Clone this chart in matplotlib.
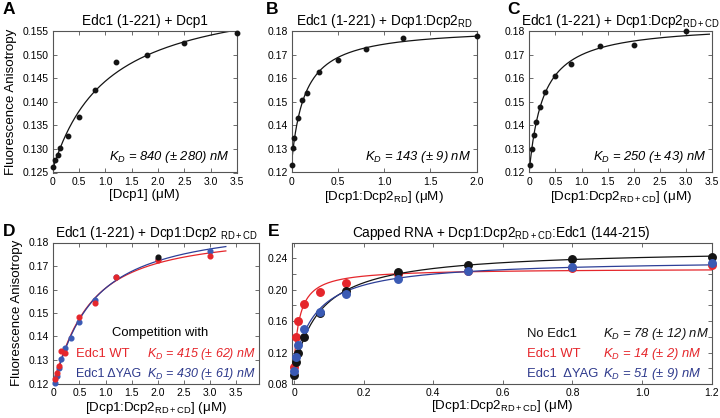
import numpy as np
import matplotlib
matplotlib.use("Agg")
import matplotlib.pyplot as plt
from matplotlib.ticker import MultipleLocator, FixedLocator, FuncFormatter

plt.rcParams['font.family'] = ['Liberation Sans', 'DejaVu Sans']
plt.rcParams['mathtext.fontset'] = 'custom'
plt.rcParams['mathtext.rm'] = 'Liberation Sans'
plt.rcParams['mathtext.it'] = 'Liberation Sans:italic'
plt.rcParams['mathtext.bf'] = 'Liberation Sans:bold'

# ---------------- data ----------------
A_x = [0, 0.05, 0.1, 0.15, 0.3, 0.5, 0.8, 1.2, 1.8, 2.5, 3.5]
A_y = [0.1262, 0.1277, 0.1287, 0.1301, 0.1327, 0.1368, 0.1425, 0.1485, 0.1500, 0.1524, 0.1545]

B_x = [0, 0.0125, 0.03, 0.07, 0.11, 0.17, 0.3, 0.5, 0.8, 1.2, 2.0]
B_y = [0.1231, 0.1304, 0.1348, 0.1433, 0.1508, 0.1536, 0.1628, 0.1678, 0.1723, 0.1770, 0.1779]

C_x = [0.0125, 0.05, 0.09, 0.125, 0.2, 0.31, 0.5, 0.8, 1.35, 2.0, 3.0]
C_y = [0.1231, 0.1301, 0.1361, 0.1413, 0.1479, 0.1541, 0.1608, 0.1661, 0.1735, 0.1739, 0.1800]

D_red_x = [0.025, 0.075, 0.1, 0.15, 0.23, 0.5, 0.8, 1.2, 2.0, 3.0]
D_red_y = [0.1221, 0.1243, 0.1275, 0.1340, 0.1330, 0.1482, 0.1543, 0.1653, 0.1725, 0.1744]
D_blue_x = [0.025, 0.07, 0.1, 0.15, 0.23, 0.33, 0.5, 0.8, 1.2, 2.0, 3.0]
D_blue_y = [0.1201, 0.1232, 0.1267, 0.1305, 0.1351, 0.1393, 0.1460, 0.1557, 0.1655, 0.1730, 0.1762]
D_black_x = [2.0]
D_black_y = [0.1739]

E_x = [0, 0.006, 0.0125, 0.03, 0.075, 0.15, 0.3, 0.5, 0.8, 1.2]
E_black = [0.0916, 0.1084, 0.1200, 0.1395, 0.1700, 0.1988, 0.2222, 0.2315, 0.2391, 0.2413]
E_blue = [0.0960, 0.1148, 0.1297, 0.1497, 0.1721, 0.1942, 0.2133, 0.2242, 0.2293, 0.2336]
E_red = [0.1020, 0.1400, 0.1606, 0.1819, 0.1967, 0.2082, 0.2196, 0.2235, 0.2277, 0.2310]

RED = '#e5262b'
BLUE_PT = '#3a5ab4'
BLUE_LN = '#2d3f98'
BLUE_TX = '#2e3a8c'
BLACK = '#141414'
AXC = '#555555'

W, H = 720, 418
fig = plt.figure(figsize=(W / 100, H / 100), dpi=100)


def box(l, t, r, b):
    return [l / W, 1 - b / H, (r - l) / W, (b - t) / H]


def fit(x, y, ns=(1.0,)):
    x = np.asarray(x, float)
    y = np.asarray(y, float)
    best = None
    for K in np.geomspace(0.001, 5, 1500):
        for n in ns:
            f = x ** n / (K ** n + x ** n)
            M = np.column_stack([np.ones_like(f), f])
            coef = np.linalg.lstsq(M, y, rcond=None)[0]
            r = np.sum((M @ coef - y) ** 2)
            if best is None or r < best[0]:
                best = (r, K, n, coef)
    _, K, n, coef = best
    return lambda xs: coef[0] + coef[1] * xs ** n / (K ** n + xs ** n)


def style(ax):
    for s in ax.spines.values():
        s.set_color(AXC)
        s.set_linewidth(0.8)
    ax.tick_params(which='both', direction='in', top=True, right=True,
                   length=3, width=0.6, color=AXC, labelsize=7.5, pad=3)


def xfmt(v, p):
    return '0' if abs(v) < 1e-9 else f'{v:.1f}'


TFS = 9.8
LFS = 9.6
KFS = 9.4

# ---------- Panel A ----------
ax = fig.add_axes(box(52.5, 31, 237, 172.5))
style(ax)
f = fit(A_x, A_y)
xs = np.linspace(0, 3.5, 300)
ax.plot(xs, f(xs), color=BLACK, lw=0.9)
ax.plot(A_x, A_y, 'o', color=BLACK, ms=3.2, clip_on=False, zorder=3)
ax.set_xlim(0, 3.5)
ax.set_ylim(0.125, 0.155)
ax.xaxis.set_major_locator(MultipleLocator(0.5))
ax.xaxis.set_major_formatter(FuncFormatter(xfmt))
ax.yaxis.set_major_locator(MultipleLocator(0.005))
ax.yaxis.set_major_formatter(FuncFormatter(lambda v, p: f'{v:.3f}'))
ax.set_title('Edc1 (1-221) + Dcp1', fontsize=TFS, pad=4)
ax.set_xlabel('[Dcp1] (μM)', fontsize=LFS, labelpad=2)
ax.set_ylabel('Fluorescence Anisotropy', fontsize=LFS, labelpad=4)
ax.text(0.96, 0.05, r'$K_D$ = 840 (± 280) nM', transform=ax.transAxes,
        ha='right', va='bottom', fontsize=KFS, style='italic')

# ---------- Panel B ----------
ax = fig.add_axes(box(291.7, 31, 476.7, 172.5))
style(ax)
f = fit(B_x, B_y)
xs = np.linspace(0, 2.0, 300)
ax.plot(xs, f(xs), color=BLACK, lw=0.9)
ax.plot(B_x, B_y, 'o', color=BLACK, ms=3.2, clip_on=False, zorder=3)
ax.set_xlim(0, 2.0)
ax.set_ylim(0.12, 0.18)
ax.xaxis.set_major_locator(MultipleLocator(0.5))
ax.xaxis.set_major_formatter(FuncFormatter(xfmt))
ax.yaxis.set_major_locator(MultipleLocator(0.01))
ax.yaxis.set_major_formatter(FuncFormatter(lambda v, p: f'{v:.2f}'))
ax.set_title(r'Edc1 (1-221) + Dcp1:Dcp2$_{\mathrm{RD}}$', fontsize=TFS, pad=4)
ax.set_xlabel(r'[Dcp1:Dcp2$_{\mathrm{RD}}$] (μM)', fontsize=LFS, labelpad=2)
ax.text(0.97, 0.05, r'$K_D$ = 143 (± 9) nM', transform=ax.transAxes,
        ha='right', va='bottom', fontsize=KFS, style='italic')

# ---------- Panel C ----------
ax = fig.add_axes(box(529.3, 31, 712, 172.5))
style(ax)
f = fit(C_x, C_y)
xs = np.linspace(0, 3.45, 300)
ax.plot(xs, f(xs), color=BLACK, lw=0.9)
ax.plot(C_x, C_y, 'o', color=BLACK, ms=3.2, clip_on=False, zorder=3)
ax.set_xlim(0, 3.5)
ax.set_ylim(0.12, 0.18)
ax.xaxis.set_major_locator(MultipleLocator(0.5))
ax.xaxis.set_major_formatter(FuncFormatter(xfmt))
ax.yaxis.set_major_locator(MultipleLocator(0.01))
ax.yaxis.set_major_formatter(FuncFormatter(lambda v, p: f'{v:.2f}'))
ax.set_title(r'Edc1 (1-221) + Dcp1:Dcp2$_{\mathrm{RD+CD}}$', fontsize=TFS, pad=4)
ax.set_xlabel(r'[Dcp1:Dcp2$_{\mathrm{RD+CD}}$] (μM)', fontsize=LFS, labelpad=2)
ax.text(0.97, 0.05, r'$K_D$ = 250 (± 43) nM', transform=ax.transAxes,
        ha='right', va='bottom', fontsize=KFS, style='italic')

# ---------- Panel D ----------
ax = fig.add_axes(box(53.3, 242.5, 259.3, 383.5))
style(ax)
ns = np.linspace(1.0, 2.5, 31)
xs = np.linspace(0, 3.3, 300)
fr = fit(D_red_x, D_red_y, ns)
fb = fit(D_blue_x, D_blue_y, ns)
ax.plot(xs, fr(xs), color=RED, lw=0.9)
ax.plot(xs, fb(xs), color=BLUE_LN, lw=0.9)
ax.plot(D_blue_x, D_blue_y, 'o', color=BLUE_PT, ms=3.4, clip_on=False, zorder=3)
ax.plot(D_red_x, D_red_y, 'o', color=RED, ms=3.4, clip_on=False, zorder=3)
ax.plot(D_black_x, D_black_y, 'o', color=BLACK, ms=3.4, clip_on=False, zorder=3)
ax.set_xlim(0, 3.94)
ax.set_ylim(0.12, 0.18)
ax.xaxis.set_major_locator(FixedLocator(np.arange(0, 3.51, 0.5)))
ax.xaxis.set_major_formatter(FuncFormatter(xfmt))
ax.yaxis.set_major_locator(MultipleLocator(0.01))
ax.yaxis.set_major_formatter(FuncFormatter(lambda v, p: f'{v:.2f}'))
ax.set_title(r'Edc1 (1-221) + Dcp1:Dcp2 $_{\mathrm{RD+CD}}$', fontsize=TFS, pad=4)
ax.set_xlabel(r'[Dcp1:Dcp2$_{\mathrm{RD+CD}}$] (μM)', fontsize=LFS, labelpad=2)
ax.set_ylabel('Fluorescence Anisotropy', fontsize=LFS, labelpad=4)
DFS = 9.0
ax.text(0.52, 0.355, 'Competition with', transform=ax.transAxes,
        ha='center', va='center', fontsize=KFS)
ax.text(0.11, 0.21, 'Edc1 WT', transform=ax.transAxes, ha='left', va='center',
        fontsize=KFS, color=RED)
ax.text(0.985, 0.21, r'$K_D$ = 415 (± 62) nM', transform=ax.transAxes,
        ha='right', va='center', fontsize=DFS, color=RED, style='italic')
ax.text(0.11, 0.07, 'Edc1 ΔYAG', transform=ax.transAxes, ha='left', va='center',
        fontsize=DFS, color=BLUE_TX)
ax.text(0.985, 0.07, r'$K_D$ = 430 (± 61) nM', transform=ax.transAxes,
        ha='right', va='center', fontsize=DFS, color=BLUE_TX, style='italic')

# ---------- Panel E ----------
ax = fig.add_axes(box(291.7, 242.5, 711.7, 384))
style(ax)
xs = np.linspace(0, 1.2, 600)
for yv, lc in [(E_red, RED), (E_black, BLACK), (E_blue, BLUE_LN)]:
    f = fit(E_x, yv)
    ax.plot(xs, f(xs), color=lc, lw=0.9)
for yv, pc in [(E_red, RED), (E_black, BLACK), (E_blue, BLUE_PT)]:
    ax.plot(E_x, yv, 'o', color=pc, ms=5.4, clip_on=False, zorder=3)
ax.set_xlim(-0.0067, 1.2)
ax.set_ylim(0.08, 0.26)
ax.xaxis.set_major_locator(FixedLocator(np.arange(0, 1.21, 0.2)))
ax.xaxis.set_major_formatter(FuncFormatter(xfmt))
ax.yaxis.set_major_locator(FixedLocator(np.arange(0.08, 0.241, 0.04)))
ax.yaxis.set_minor_locator(FixedLocator(np.arange(0.10, 0.261, 0.04)))
ax.yaxis.set_major_formatter(FuncFormatter(lambda v, p: f'{v:.2f}'))
ax.set_title(r'Capped RNA + Dcp1:Dcp2$_{\mathrm{RD+CD}}$:Edc1 (144-215)', fontsize=TFS, pad=4)
ax.set_xlabel(r'[Dcp1:Dcp2$_{\mathrm{RD+CD}}$] (μM)', fontsize=LFS, labelpad=0)
rows = [('No Edc1', r'$K_D$ = 78 (± 12) nM', BLACK, 0.355),
        ('Edc1 WT', r'$K_D$ = 14 (± 2) nM', RED, 0.21),
        ('Edc1  ΔYAG', r'$K_D$ = 51 (± 9) nM', BLUE_TX, 0.07)]
for lab, kd, c, yy in rows:
    ax.text(0.561, yy, lab, transform=ax.transAxes, ha='left', va='center',
            fontsize=KFS, color=c)
    ax.text(0.741, yy, kd, transform=ax.transAxes, ha='left', va='center',
            fontsize=KFS, color=c, style='italic')

# ---------- panel letters ----------
for lab, x, y in [('A', 3, 2), ('B', 266, 2), ('C', 507, 2), ('D', 3, 224), ('E', 268, 224)]:
    fig.text(x / W, 1 - y / H, lab, fontsize=12.5, fontweight='bold', ha='left', va='top')

fig.savefig('out.png', dpi=100)
